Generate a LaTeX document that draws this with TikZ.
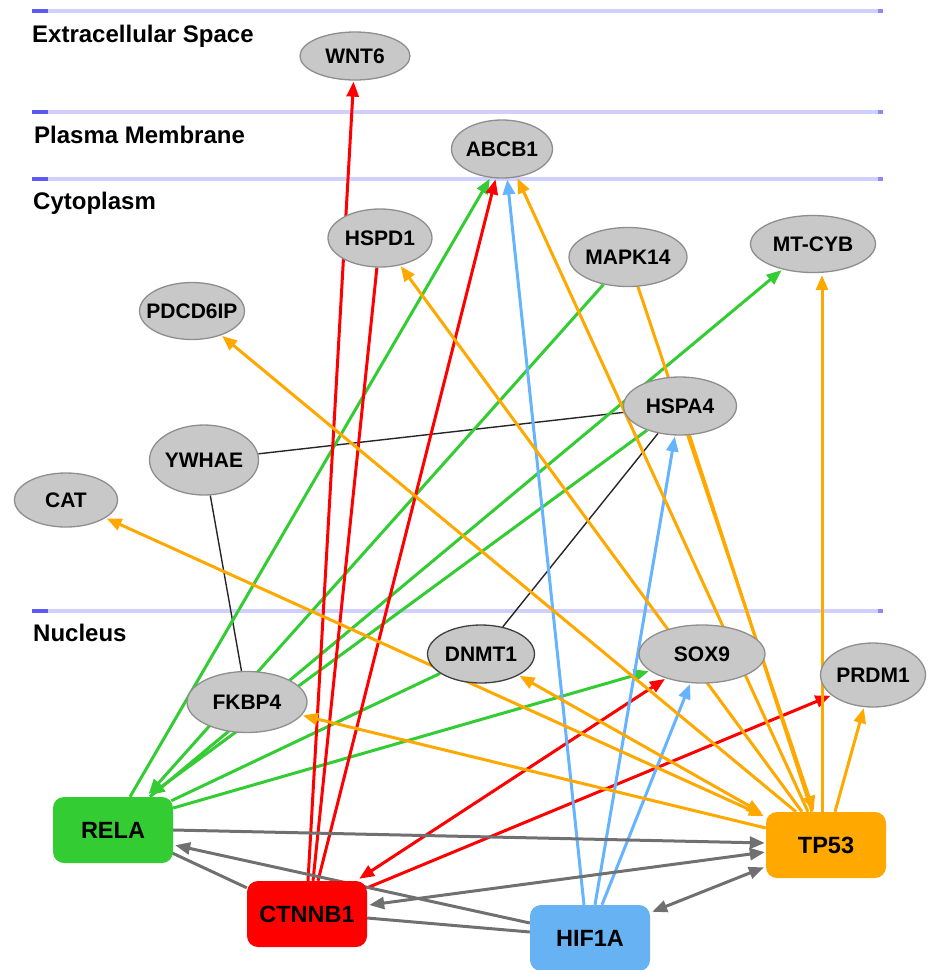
\documentclass[tikz,border=0pt]{standalone}
\usepackage{fontspec}
\setmainfont{Liberation Sans}
\usetikzlibrary{arrows.meta,calc,shapes.geometric,backgrounds}
\definecolor{cgreen}{HTML}{33CC33}
\definecolor{cred}{HTML}{FF0000}
\definecolor{cblue}{HTML}{66B2F2}
\definecolor{cbluel}{HTML}{66B3FF}
\definecolor{corange}{HTML}{FFA800}
\definecolor{cgray}{HTML}{707070}
\definecolor{ellfill}{HTML}{C8C8C8}
\definecolor{ellborder}{HTML}{8E8E8E}
\definecolor{lav}{HTML}{D0D0FF}
\definecolor{lavdark}{HTML}{5A5AF0}
\newcommand\gn[1]{\makebox[0pt]{#1}}
\tikzset{
  gene/.style={ellipse, draw=ellborder, fill=ellfill, line width=1.3pt, inner sep=0pt,
    font=\fontsize{21}{24}\selectfont\bfseries},
  hub/.style={rounded corners=11pt, inner sep=0pt, minimum width=120pt, minimum height=66pt,
    font=\fontsize{23.5}{26}\selectfont\bfseries},
  lbl/.style={anchor=base west, inner sep=0pt, font=\fontsize{24}{28}\selectfont\bfseries},
  ed/.style={line width=3pt},
  tip/.style={-{Triangle[length=15pt,width=12pt]}, shorten >=1pt},
  dtip/.style={{Triangle[length=15pt,width=12pt]}-{Triangle[length=15pt,width=12pt]}, shorten >=1pt},
  plainlink/.style={line width=1.4pt, draw=black!85},
}
\begin{document}
\begin{tikzpicture}[x=1pt,y=-1pt]
\useasboundingbox (0,0) rectangle (928,970);

% compartment labels
\node[lbl] (ecs) at (32,42) {Extracellular Space};
\node[lbl] (pm) at (34,143) {Plasma Membrane};
\node[lbl] (cyt) at (33,209) {Cytoplasm};
\node[lbl] (nuc) at (33,641) {Nucleus};

% genes
\node[gene, minimum width=110pt, minimum height=48pt] (WNT6) at (355,56) {\gn{WNT6}};
\node[gene, minimum width=101pt, minimum height=58pt] (ABCB1) at (502,149) {\gn{ABCB1}};
\node[gene, minimum width=104pt, minimum height=58pt] (HSPD1) at (380,238) {\gn{HSPD1}};
\node[gene, minimum width=118pt, minimum height=59pt] (MAPK14) at (628,257) {\gn{MAPK14}};
\node[gene, minimum width=125pt, minimum height=57pt] (MTCYB) at (813,244) {\gn{MT-CYB}};
\node[gene, minimum width=105pt, minimum height=57pt] (PDCD6IP) at (192,311) {\gn{PDCD6IP}};
\node[gene, minimum width=113pt, minimum height=58pt] (HSPA4) at (680,406) {\gn{HSPA4}};
\node[gene, minimum width=109pt, minimum height=70pt] (YWHAE) at (204,460) {\gn{YWHAE}};
\node[gene, minimum width=103pt, minimum height=54pt] (CAT) at (66,500) {\gn{CAT}};
\node[gene, draw=black!75, minimum width=107pt, minimum height=58pt] (DNMT1) at (481,654) {\gn{DNMT1}};
\node[gene, minimum width=126pt, minimum height=58pt] (SOX9) at (702,654) {\gn{SOX9}};
\node[gene, minimum width=105pt, minimum height=64pt] (PRDM1) at (873,675) {\gn{PRDM1}};
\node[gene, minimum width=120pt, minimum height=61pt] (FKBP4) at (247,702) {\gn{FKBP4}};

% hubs
\node[hub, fill=cgreen] (RELA) at (113,830) {RELA};
\node[hub, fill=cred] (CTNNB1) at (307,914) {CTNNB1};
\node[hub, fill=cblue] (HIF1A) at (590,938) {HIF1A};
\node[hub, fill=corange] (TP53) at (826,845) {TP53};

\begin{scope}[on background layer]
  % compartment lines
  \foreach \yy in {11,112,179,611} {
    \draw[line width=3.2pt, lav] (32,\yy) -- (881,\yy);
    \draw[line width=3.2pt, lavdark] (32,\yy) -- (48,\yy);
    \fill[lavdark!70] (878,{\yy-2}) rectangle (883,{\yy+2});
  }
  % thin black links
  \draw[plainlink] (YWHAE) -- (HSPA4);
  \draw[plainlink] (YWHAE) -- (FKBP4);
  \draw[plainlink] (HSPA4) -- (DNMT1);

  % green (RELA)
  \draw[ed, cgreen, tip] ($(RELA.north)+(17,0)$) -- (ABCB1.248);
  \draw[ed, cgreen, tip] (MAPK14) -- ($(RELA.north)+(35,-2)$);
  \draw[ed, cgreen, tip] ($(RELA.north)+(37,0)$) -- (MTCYB);
  \draw[ed, cgreen, tip] (HSPA4) -- ($(RELA.north)+(36,-1)$);
  \draw[ed, cgreen] (DNMT1) -- ($(RELA.north east)+(-2,4)$);
  \draw[ed, cgreen, tip] ($(RELA.east)+(0,-22)$) -- (SOX9.198);

  % red (CTNNB1)
  \draw[ed, cred, tip] ($(CTNNB1.north)+(1,0)$) -- (WNT6);
  \draw[ed, cred] ($(CTNNB1.north)+(6,0)$) -- (HSPD1);
  \draw[ed, cred, tip] ($(CTNNB1.north)+(11,0)$) -- (ABCB1.258);
  \draw[ed, cred, dtip] ($(CTNNB1.north east)+(-8,-2)$) -- (SOX9.214);
  \draw[ed, cred, tip] ($(CTNNB1.north east)+(0,7)$) -- (PRDM1.206);

  % blue (HIF1A)
  \draw[ed, cbluel, tip] ($(HIF1A.north)+(-6,0)$) -- (ABCB1.280);
  \draw[ed, cbluel, tip] ($(HIF1A.north)+(5,0)$) -- (HSPA4);
  \draw[ed, cbluel, tip] ($(HIF1A.north)+(12,0)$) -- (SOX9);

  % orange (TP53)
  \draw[ed, corange, tip] ($(TP53.north)+(-18,0)$) -- (ABCB1.298);
  \draw[ed, corange, tip] ($(TP53.north)+(-24,0)$) -- (HSPD1);
  \draw[ed, corange, tip] (MAPK14) -- ($(TP53.north)+(-12,0)$);
  \draw[ed, corange] (HSPA4) -- ($(TP53.north)+(-14,0)$);
  \draw[ed, corange, tip] ($(TP53.north)+(-4,0)$) -- ($(MTCYB.south)+(9,1)$);
  \draw[ed, corange, tip] ($(TP53.north)+(9,0)$) -- (PRDM1);
  \draw[ed, corange, tip] ($(TP53.north)+(-30,0)$) -- (PDCD6IP);
  \draw[ed, corange, dtip] ($(TP53.west)+(-2,-29)$) -- (CAT);
  \draw[ed, corange, dtip] ($(TP53.west)+(-4,-32)$) -- (DNMT1);
  \draw[ed, corange, tip] ($(TP53.west)+(0,-17)$) -- (FKBP4);

  % gray
  \draw[ed, cgray, tip] (RELA.east) -- ($(TP53.west)+(0,-2)$);
  \draw[ed, cgray, dtip] ($(CTNNB1.east)+(2,-9)$) -- ($(TP53.west)+(0,7)$);
  \draw[ed, cgray, tip] ($(HIF1A.west)+(0,-15)$) -- ($(RELA.east)+(1,15)$);
  \draw[ed, cgray] ($(CTNNB1.north west)+(0,7)$) -- ($(RELA.east)+(-1,23)$);
  \draw[ed, cgray] ($(CTNNB1.east)+(0,4)$) -- ($(HIF1A.west)+(0,-6)$);
  \draw[ed, cgray, dtip] ($(HIF1A.north east)+(2,7)$) -- ($(TP53.west)+(-1,22)$);
\end{scope}
\end{tikzpicture}
\end{document}
